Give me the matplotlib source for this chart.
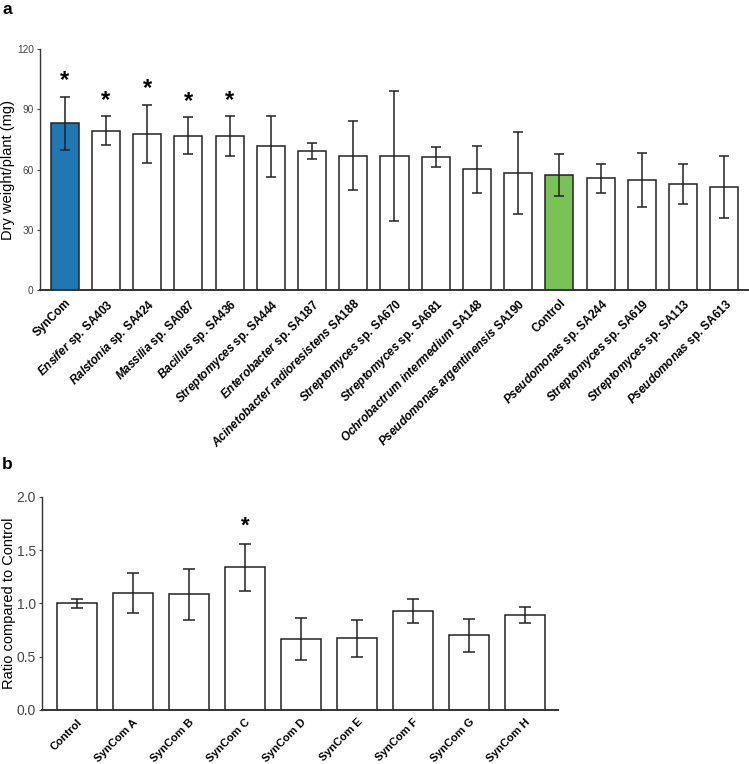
import numpy as np
import matplotlib
matplotlib.use("Agg")
import matplotlib.pyplot as plt

plt.rcParams['font.family'] = ['Liberation Sans', 'DejaVu Sans']
plt.rcParams['mathtext.fontset'] = 'custom'
plt.rcParams['mathtext.rm'] = 'Liberation Sans:bold'
plt.rcParams['mathtext.bfit'] = 'Liberation Sans:bold:italic'
plt.rcParams['mathtext.it'] = 'Liberation Sans:bold:italic'

# Panel a: dry weight per plant (mg)
strain_labels = [
    "SynCom",
    r"$\mathbfit{Ensifer}$ sp. SA403",
    r"$\mathbfit{Ralstonia}$ sp. SA424",
    r"$\mathbfit{Massilia}$ sp. SA087",
    r"$\mathbfit{Bacillus}$ sp. SA436",
    r"$\mathbfit{Streptomyces}$ sp. SA444",
    r"$\mathbfit{Enterobacter}$ sp. SA187",
    r"$\mathbfit{Acinetobacter\ radioresistens}$ SA188",
    r"$\mathbfit{Streptomyces}$ sp. SA670",
    r"$\mathbfit{Streptomyces}$ sp. SA681",
    r"$\mathbfit{Ochrobactrum\ intermedium}$ SA148",
    r"$\mathbfit{Pseudomonas\ argentinensis}$ SA190",
    "Control",
    r"$\mathbfit{Pseudomonas}$ sp. SA244",
    r"$\mathbfit{Streptomyces}$ sp. SA619",
    r"$\mathbfit{Streptomyces}$ sp. SA113",
    r"$\mathbfit{Pseudomonas}$ sp. SA613",
]
dry_weight = [83.0, 79.3, 77.7, 76.9, 76.7, 71.7, 69.2, 66.9, 66.7, 66.2,
              60.1, 58.3, 57.1, 55.6, 54.6, 52.8, 51.3]
dry_weight_sd = [13.2, 7.3, 14.4, 9.1, 9.9, 15.2, 4.0, 17.1, 32.2, 5.0,
                 11.8, 20.2, 10.5, 7.3, 13.5, 9.8, 15.5]
signif_a = [True, True, True, True, True] + [False] * 12

# Panel b: ratio compared to control
syncom_labels = ["Control", "SynCom A", "SynCom B", "SynCom C", "SynCom D",
                 "SynCom E", "SynCom F", "SynCom G", "SynCom H"]
ratio = [1.00, 1.10, 1.085, 1.34, 0.665, 0.672, 0.928, 0.70, 0.89]
ratio_sd = [0.04, 0.185, 0.24, 0.22, 0.195, 0.17, 0.11, 0.155, 0.075]
signif_b = [False, False, False, True, False, False, False, False, False]

edge = '#222222'
fig = plt.figure(figsize=(7.49, 7.64), dpi=100)

# ---- panel a
ax1 = fig.add_axes([0.0534, 0.6204, 0.9466, 0.3154])
colors_a = ['white'] * len(dry_weight)
colors_a[0] = '#1f77b4'
colors_a[12] = '#78c257'
x1 = np.arange(len(dry_weight))
ax1.bar(x1, dry_weight, width=0.68, color=colors_a, edgecolor=edge, linewidth=1.1, zorder=2)
ax1.errorbar(x1, dry_weight, yerr=dry_weight_sd, fmt='none', ecolor=edge,
             elinewidth=1.1, capsize=3.3, capthick=1.1, zorder=3)
for i in range(len(dry_weight)):
    if signif_a[i]:
        ax1.text(x1[i], dry_weight[i] + dry_weight_sd[i] + 8, '*', ha='center', va='center',
                 fontsize=17, fontweight='bold')
ax1.set_xlim(-0.6, 16.6)
ax1.set_ylim(0, 120)
ax1.set_yticks([0, 30, 60, 90, 120])
ax1.set_xticks(x1)
ax1.set_xticklabels(strain_labels, rotation=45, ha='right', va='top', rotation_mode='anchor',
                    fontsize=8.5, fontweight='bold')
ax1.set_ylabel('Dry weight/plant (mg)', fontsize=10.5)
ax1.yaxis.set_label_coords(-0.035, 0.5)

# ---- panel b
ax2 = fig.add_axes([0.0561, 0.0707, 0.689, 0.2788])
x2 = np.arange(len(ratio))
ax2.bar(x2, ratio, width=0.71, color='white', edgecolor=edge, linewidth=1.1, zorder=2)
ax2.errorbar(x2, ratio, yerr=ratio_sd, fmt='none', ecolor=edge,
             elinewidth=1.1, capsize=4.3, capthick=1.1, zorder=3)
for i in range(len(ratio)):
    if signif_b[i]:
        ax2.text(x2[i], ratio[i] + ratio_sd[i] + 0.17, '*', ha='center', va='center',
                 fontsize=16, fontweight='bold')
ax2.set_xlim(-0.62, 8.59)
ax2.set_ylim(0, 2.0)
ax2.set_yticks([0.0, 0.5, 1.0, 1.5, 2.0])
ax2.set_yticklabels(['0.0', '0.5', '1.0', '1.5', '2.0'])
ax2.set_xticks(x2)
ax2.set_xticklabels(syncom_labels, rotation=45, ha='right', va='top', rotation_mode='anchor',
                    fontsize=8, fontweight='bold')
ax2.set_ylabel('Ratio compared to Control', fontsize=10.5)
ax2.yaxis.set_label_coords(-0.05, 0.5)

for ax in (ax1, ax2):
    ax.spines['top'].set_visible(False)
    ax.spines['right'].set_visible(False)
    ax.spines['left'].set_color('#333333')
    ax.spines['bottom'].set_color('#333333')
    ax.spines['left'].set_linewidth(1.0)
    ax.spines['bottom'].set_linewidth(1.4)
    ax.tick_params(axis='y', length=2.5, width=0.8, labelsize=7.3, colors='#444444', pad=2)
    ax.tick_params(axis='x', length=0, pad=5)

ax2.tick_params(axis='y', labelsize=10)

fig.text(0.003, 0.998, 'a', fontsize=12.5, fontweight='bold', va='top')
fig.text(0.003, 0.402, 'b', fontsize=12.5, fontweight='bold', va='top')

fig.savefig('out.png', dpi=100)
